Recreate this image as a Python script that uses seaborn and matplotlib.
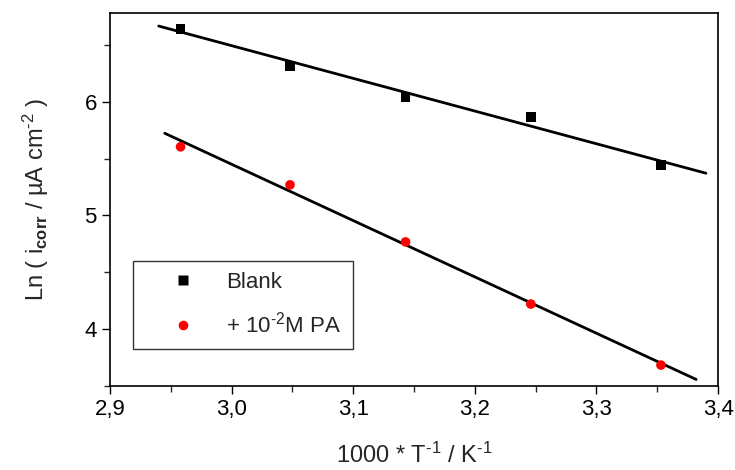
import numpy as np
import pandas as pd
import matplotlib
matplotlib.use("Agg")
import matplotlib.pyplot as plt
import seaborn as sns
from matplotlib.ticker import MultipleLocator, FuncFormatter

# data
inv_T = [2.958, 3.048, 3.143, 3.246, 3.353]
blank = [6.643, 6.317, 6.044, 5.868, 5.445]
pa = [5.604, 5.269, 4.767, 4.220, 3.683]
labels = ["Blank", "+ 10$^{\u20102}$M PA"]

sns.set_theme(style="ticks")
plt.rcParams['font.family'] = ['Liberation Sans', 'DejaVu Sans']
plt.rcParams['mathtext.fontset'] = 'custom'
plt.rcParams['mathtext.rm'] = 'Liberation Sans'
plt.rcParams['mathtext.it'] = 'Liberation Sans'
plt.rcParams['mathtext.bf'] = 'Liberation Sans:bold'

fig, ax = plt.subplots(figsize=(7.35, 4.7), dpi=100)
fig.subplots_adjust(left=0.1497, right=0.977, top=0.972, bottom=0.179)

df = pd.DataFrame({"x": inv_T + inv_T, "y": blank + pa,
                   "series": [labels[0]] * 5 + [labels[1]] * 5})

# fit lines
x_fit_b = np.array([2.94, 3.39])
cb = np.polyfit(inv_T, blank, 1)
x_fit_p = np.array([2.945, 3.382])
cp = np.polyfit(inv_T, pa, 1)
sns.lineplot(x=x_fit_b, y=np.polyval(cb, x_fit_b), ax=ax, color="black", lw=2, legend=False)
sns.lineplot(x=x_fit_p, y=np.polyval(cp, x_fit_p), ax=ax, color="black", lw=2, legend=False)

sns.scatterplot(data=df, x="x", y="y", hue="series", style="series",
                palette=["black", "red"], markers=["s", "o"], s=48,
                edgecolor="none", ax=ax, zorder=3)

ax.set_xlim(2.9, 3.4)
ax.set_ylim(3.5, 6.78)
ax.xaxis.set_major_locator(MultipleLocator(0.1))
ax.xaxis.set_minor_locator(MultipleLocator(0.05))
ax.yaxis.set_major_locator(MultipleLocator(1))
ax.yaxis.set_minor_locator(MultipleLocator(0.5))
fmt = FuncFormatter(lambda v, p: f"{v:.1f}".replace(".", ","))
ax.xaxis.set_major_formatter(fmt)
ax.yaxis.set_major_formatter(FuncFormatter(lambda v, p: f"{v:.0f}"))
ax.tick_params(which="major", direction="out", length=6, width=1, labelsize=16, colors="black")
ax.tick_params(which="minor", direction="out", length=4, width=1)
for s in ax.spines.values():
    s.set_linewidth(1.2)
    s.set_color("black")

ax.set_xlabel("1000 * T$^{\u20101}$ / K$^{\u20101}$", fontsize=17, labelpad=16)
ax.set_ylabel("Ln ( i$_{\\mathbf{corr}}$ / µA cm$^{\u20102}$ )", fontsize=17, labelpad=24)

leg = ax.legend(loc="lower left", bbox_to_anchor=(0.038, 0.099), fontsize=16,
                frameon=True, fancybox=False, edgecolor="black",
                borderpad=0.5, labelspacing=0.85, handletextpad=0.25, borderaxespad=0,
                handlelength=3.45)
leg.get_frame().set_linewidth(1.0)

fig.savefig("out.png", dpi=100)
